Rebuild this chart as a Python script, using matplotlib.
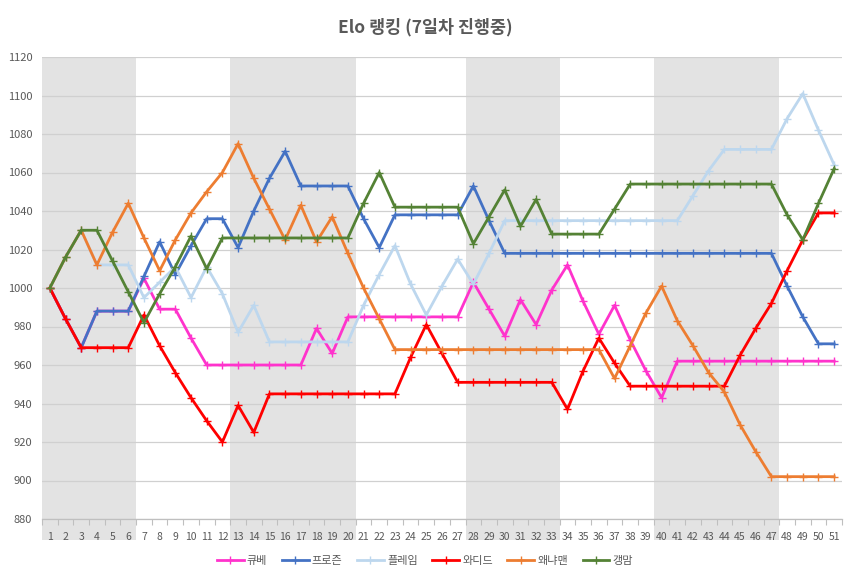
import matplotlib
matplotlib.use("Agg")
from matplotlib import pyplot as plt
from matplotlib.ticker import MultipleLocator

plt.rcParams['font.family'] = ['Noto Sans CJK KR', 'DejaVu Sans']

title = "Elo 랭킹 (7일차 진행중)"

rounds = list(range(1, 52))

# gray bands (first round, last round)
bands = [(1, 6), (13, 20), (28, 33), (40, 47)]

names = ["큐베", "프로즌", "플레임", "와디드", "왜냐맨", "갱맘"]
colors = ["#ff33cc", "#4472c4", "#bdd7ee", "#ff0000", "#ed7d31", "#548235"]

kube = [1000, 984, 969, 988, 988, 988, 1005, 989, 989, 974,
        960, 960, 960, 960, 960, 960, 960, 979, 966, 985,
        985, 985, 985, 985, 985, 985, 985, 1003, 989, 975,
        994, 981, 999, 1012, 993, 976, 991, 973, 957, 943,
        962, 962, 962, 962, 962, 962, 962, 962, 962, 962, 962]

frozen = [1000, 984, 969, 988, 988, 988, 1006, 1024, 1007, 1022,
          1036, 1036, 1021, 1040, 1057, 1071, 1053, 1053, 1053, 1053,
          1036, 1021, 1038, 1038, 1038, 1038, 1038, 1053, 1035, 1018,
          1018, 1018, 1018, 1018, 1018, 1018, 1018, 1018, 1018, 1018,
          1018, 1018, 1018, 1018, 1018, 1018, 1018, 1001, 985, 971, 971]

flame = [1000, 1016, 1030, 1012, 1012, 1012, 995, 1003, 1011, 995,
         1011, 997, 977, 991, 972, 972, 972, 972, 972, 972,
         991, 1007, 1022, 1002, 986, 1001, 1015, 1002, 1018, 1035,
         1035, 1035, 1035, 1035, 1035, 1035, 1035, 1035, 1035, 1035,
         1035, 1048, 1061, 1072, 1072, 1072, 1072, 1088, 1101, 1082, 1064]

wadid = [1000, 984, 969, 969, 969, 969, 986, 970, 956, 943,
         931, 920, 939, 925, 945, 945, 945, 945, 945, 945,
         945, 945, 945, 964, 981, 966, 951, 951, 951, 951,
         951, 951, 951, 937, 957, 974, 961, 949, 949, 949,
         949, 949, 949, 949, 965, 979, 992, 1009, 1025, 1039, 1039]

whyman = [1000, 1016, 1030, 1012, 1029, 1044, 1026, 1009, 1025, 1039,
          1050, 1060, 1075, 1057, 1041, 1025, 1043, 1024, 1037, 1018,
          1000, 984, 968, 968, 968, 968, 968, 968, 968, 968,
          968, 968, 968, 968, 968, 968, 953, 970, 987, 1001,
          983, 970, 956, 946, 929, 915, 902, 902, 902, 902, 902]

gengmam = [1000, 1016, 1030, 1030, 1014, 998, 982, 997, 1011, 1027,
           1010, 1026, 1026, 1026, 1026, 1026, 1026, 1026, 1026, 1026,
           1044, 1060, 1042, 1042, 1042, 1042, 1042, 1023, 1037, 1051,
           1032, 1046, 1028, 1028, 1028, 1028, 1041, 1054, 1054, 1054,
           1054, 1054, 1054, 1054, 1054, 1054, 1054, 1038, 1025, 1044, 1062]

series = [kube, frozen, flame, wadid, whyman, gengmam]

fig = plt.figure(figsize=(8.5, 5.75), dpi=100)
ax = fig.add_axes([42/850, 1-519/575, 800/850, 462/575])

for start, end in bands:
    ax.axvspan(start-0.5, end+0.5, ymin=-0.045, ymax=1, color="#e3e3e3",
               lw=0, zorder=0, clip_on=False)

for name, vals, c in zip(names, series, colors):
    ax.plot(rounds, vals, color=c, lw=2, marker="+", markersize=6,
            markeredgewidth=1, label=name, zorder=2)

ax.set_xlim(0.5, 51.5)
ax.set_ylim(880, 1120)
ax.yaxis.set_major_locator(MultipleLocator(20))
ax.set_xticks(rounds)
ax.set_xticks([r + 0.5 for r in range(0, 52)], minor=True)

ax.set_axisbelow(True)
ax.grid(True, axis="y", color="#d0d0d0", lw=0.9)

for s in ["top", "right", "left"]:
    ax.spines[s].set_visible(False)
ax.spines["bottom"].set_color("#bfbfbf")
ax.spines["bottom"].set_linewidth(0.9)

ax.tick_params(axis="x", which="major", length=0, labelsize=7.5,
               labelcolor="#595959", pad=9)
ax.tick_params(axis="x", which="minor", length=4, color="#bfbfbf", width=0.8)
ax.tick_params(axis="y", length=0, labelsize=8, labelcolor="#595959", pad=7)

fig.text(0.5, 1-27/575, title, ha="center", va="center", fontsize=12.5,
         fontweight="bold", color="#595959")

fig.legend(loc="center", bbox_to_anchor=(0.5, 1-561/575), ncol=6,
           frameon=False, fontsize=8, handlelength=2.4, columnspacing=1.3,
           handletextpad=0.3, labelcolor="#595959")

fig.savefig("out.png", dpi=100)
